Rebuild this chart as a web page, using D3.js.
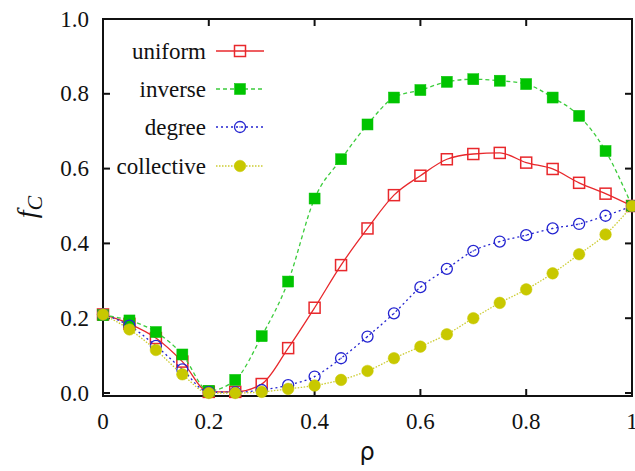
<!DOCTYPE html>
<html>
<head>
<meta charset="utf-8">
<script src="https://cdn.jsdelivr.net/npm/d3@7"></script>
<style>
  html, body { margin: 0; padding: 0; background: #fff; }
</style>
</head>
<body>
<div id="chart"></div>
<script>
// rho values, 0 to 1 in steps of 0.05
var rho = [0, 0.05, 0.1, 0.15, 0.2, 0.25, 0.3, 0.35, 0.4, 0.45, 0.5,
           0.55, 0.6, 0.65, 0.7, 0.75, 0.8, 0.85, 0.9, 0.95, 1.0];

var uniform    = [0.21, 0.185, 0.147, 0.084, 0.003, 0.003, 0.024, 0.12, 0.228, 0.342, 0.44,
                  0.529, 0.581, 0.625, 0.639, 0.642, 0.616, 0.599, 0.562, 0.533, 0.5];
var inverse    = [0.208, 0.194, 0.163, 0.103, 0.006, 0.035, 0.152, 0.298, 0.52, 0.625, 0.718,
                  0.79, 0.81, 0.832, 0.839, 0.835, 0.826, 0.79, 0.741, 0.647, 0.5];
var degree     = [0.21, 0.18, 0.126, 0.063, 0.002, 0.002, 0.008, 0.021, 0.044, 0.093, 0.151,
                  0.213, 0.283, 0.332, 0.38, 0.405, 0.422, 0.44, 0.452, 0.474, 0.5];
var collective = [0.21, 0.17, 0.115, 0.05, 0.0, 0.0, 0.003, 0.011, 0.02, 0.035, 0.059,
                  0.093, 0.124, 0.157, 0.2, 0.241, 0.277, 0.32, 0.371, 0.424, 0.5];

var seriesNames = ["uniform", "inverse", "degree", "collective"];
var xTicks = [0, 0.2, 0.4, 0.6, 0.8, 1];
var xTickLabels = ["0", "0.2", "0.4", "0.6", "0.8", "1"];
var yTicks = [0, 0.2, 0.4, 0.6, 0.8, 1.0];

var W = 635, H = 471;
var SERIF = "'Liberation Serif', 'Times New Roman', 'DejaVu Serif', serif";

var styles = {
    uniform:    { color: "#e8282c", line: "#e8282c", dash: null,    marker: "square", filled: false },
    inverse:    { color: "#00c400", line: "#3ccc3c", dash: "4,3",   marker: "square", filled: true },
    degree:     { color: "#2424d0", line: "#2424d0", dash: "2,3",   marker: "circle", filled: false },
    collective: { color: "#c8c800", line: "#cccc30", dash: "1.5,1.5", marker: "circle", filled: true }
};

var values = { uniform: uniform, inverse: inverse, degree: degree, collective: collective };

var data = seriesNames.map(function(name) {
    return {
        label: name,
        values: rho.map(function(r, i) { return { x: r, y: values[name][i] }; })
    };
});

var xScale = d3.scaleLinear().domain([0, 1]).range([103, 632]);
var yScale = d3.scaleLinear().domain([-0.008, 1]).range([396, 19]);

var svg = d3.select("#chart").append("svg")
    .attr("width", W)
    .attr("height", H);

// frame
svg.append("rect")
    .attr("x", xScale(0))
    .attr("y", yScale(1))
    .attr("width", xScale(1) - xScale(0))
    .attr("height", yScale(-0.008) - yScale(1))
    .attr("fill", "none")
    .attr("stroke", "#111")
    .attr("stroke-width", 2);

// ticks (inward, mirrored)
var tickG = svg.append("g").attr("stroke", "#111").attr("stroke-width", 2);
xTicks.slice(1, -1).forEach(function(t) {
    tickG.append("line").attr("x1", xScale(t)).attr("x2", xScale(t))
        .attr("y1", yScale(-0.008)).attr("y2", yScale(-0.008) - 7);
    tickG.append("line").attr("x1", xScale(t)).attr("x2", xScale(t))
        .attr("y1", yScale(1)).attr("y2", yScale(1) + 7);
});
yTicks.forEach(function(t) {
    tickG.append("line").attr("x1", xScale(0)).attr("x2", xScale(0) + 7)
        .attr("y1", yScale(t)).attr("y2", yScale(t));
    tickG.append("line").attr("x1", xScale(1)).attr("x2", xScale(1) - 7)
        .attr("y1", yScale(t)).attr("y2", yScale(t));
});

// tick labels
svg.append("g").selectAll("text")
    .data(xTicks)
    .enter().append("text")
    .attr("x", function(d) { return xScale(d); })
    .attr("y", 429)
    .attr("text-anchor", "middle")
    .attr("font-family", SERIF)
    .attr("font-size", 23)
    .attr("fill", "#111")
    .text(function(d, i) { return xTickLabels[i]; });

svg.append("g").selectAll("text")
    .data(yTicks)
    .enter().append("text")
    .attr("x", 89)
    .attr("y", function(d) { return yScale(d) + 7.5; })
    .attr("text-anchor", "end")
    .attr("font-family", SERIF)
    .attr("font-size", 23)
    .attr("fill", "#111")
    .text(function(d) { return d3.format(".1f")(d); });

// axis titles
svg.append("text")
    .attr("x", 367)
    .attr("y", 460)
    .attr("text-anchor", "middle")
    .attr("font-size", 24)
    .attr("font-family", "'DejaVu Sans', sans-serif")
    .attr("fill", "#111")
    .text("ρ");

var yl = svg.append("text")
    .attr("transform", "translate(36,207) rotate(-90)")
    .attr("text-anchor", "middle")
    .attr("font-family", SERIF)
    .attr("font-size", 28)
    .attr("font-style", "italic")
    .attr("fill", "#111");
yl.append("tspan").text("f");
yl.append("tspan").attr("dy", 6).attr("font-size", 22).text("C");

// lines
var line = d3.line()
    .curve(d3.curveMonotoneX)
    .x(function(d) { return xScale(d.x); })
    .y(function(d) { return yScale(d.y); });

function drawMarker(g, type, filled, color, cx, cy) {
    if (type === "square") {
        g.append("rect")
            .attr("x", cx - 5.5).attr("y", cy - 5.5)
            .attr("width", 11).attr("height", 11)
            .attr("fill", filled ? color : "none")
            .attr("stroke", color)
            .attr("stroke-width", filled ? 0.5 : 1.5);
    } else {
        g.append("circle")
            .attr("cx", cx).attr("cy", cy)
            .attr("r", filled ? 5.8 : 5.5)
            .attr("fill", filled ? color : "none")
            .attr("stroke", color)
            .attr("stroke-width", filled ? 0.5 : 1.3);
        if (!filled) {
            g.append("circle").attr("cx", cx).attr("cy", cy).attr("r", 0.7).attr("fill", color);
        }
    }
}

data.forEach(function(s) {
    var st = styles[s.label];
    var g = svg.append("g").attr("class", "series " + s.label);
    g.append("path")
        .datum(s.values)
        .attr("d", line)
        .attr("fill", "none")
        .attr("stroke", st.line)
        .attr("stroke-width", 1.3)
        .attr("stroke-dasharray", st.dash);
    s.values.forEach(function(d) {
        drawMarker(g, st.marker, st.filled, st.color, xScale(d.x), yScale(d.y));
    });
});

// legend
var legendY = [51, 89, 127, 166];
var legend = svg.append("g").attr("class", "legend");
data.forEach(function(s, i) {
    var st = styles[s.label];
    var y = legendY[i];
    legend.append("text")
        .attr("x", 206)
        .attr("y", y + 7.5)
        .attr("text-anchor", "end")
        .attr("font-family", SERIF)
        .attr("font-size", 23)
        .attr("fill", "#111")
        .text(s.label);
    legend.append("line")
        .attr("x1", 216).attr("x2", 264)
        .attr("y1", y).attr("y2", y)
        .attr("stroke", st.line)
        .attr("stroke-width", 1.3)
        .attr("stroke-dasharray", st.dash);
    drawMarker(legend, st.marker, st.filled, st.color, 240, y);
});
</script>
</body>
</html>
